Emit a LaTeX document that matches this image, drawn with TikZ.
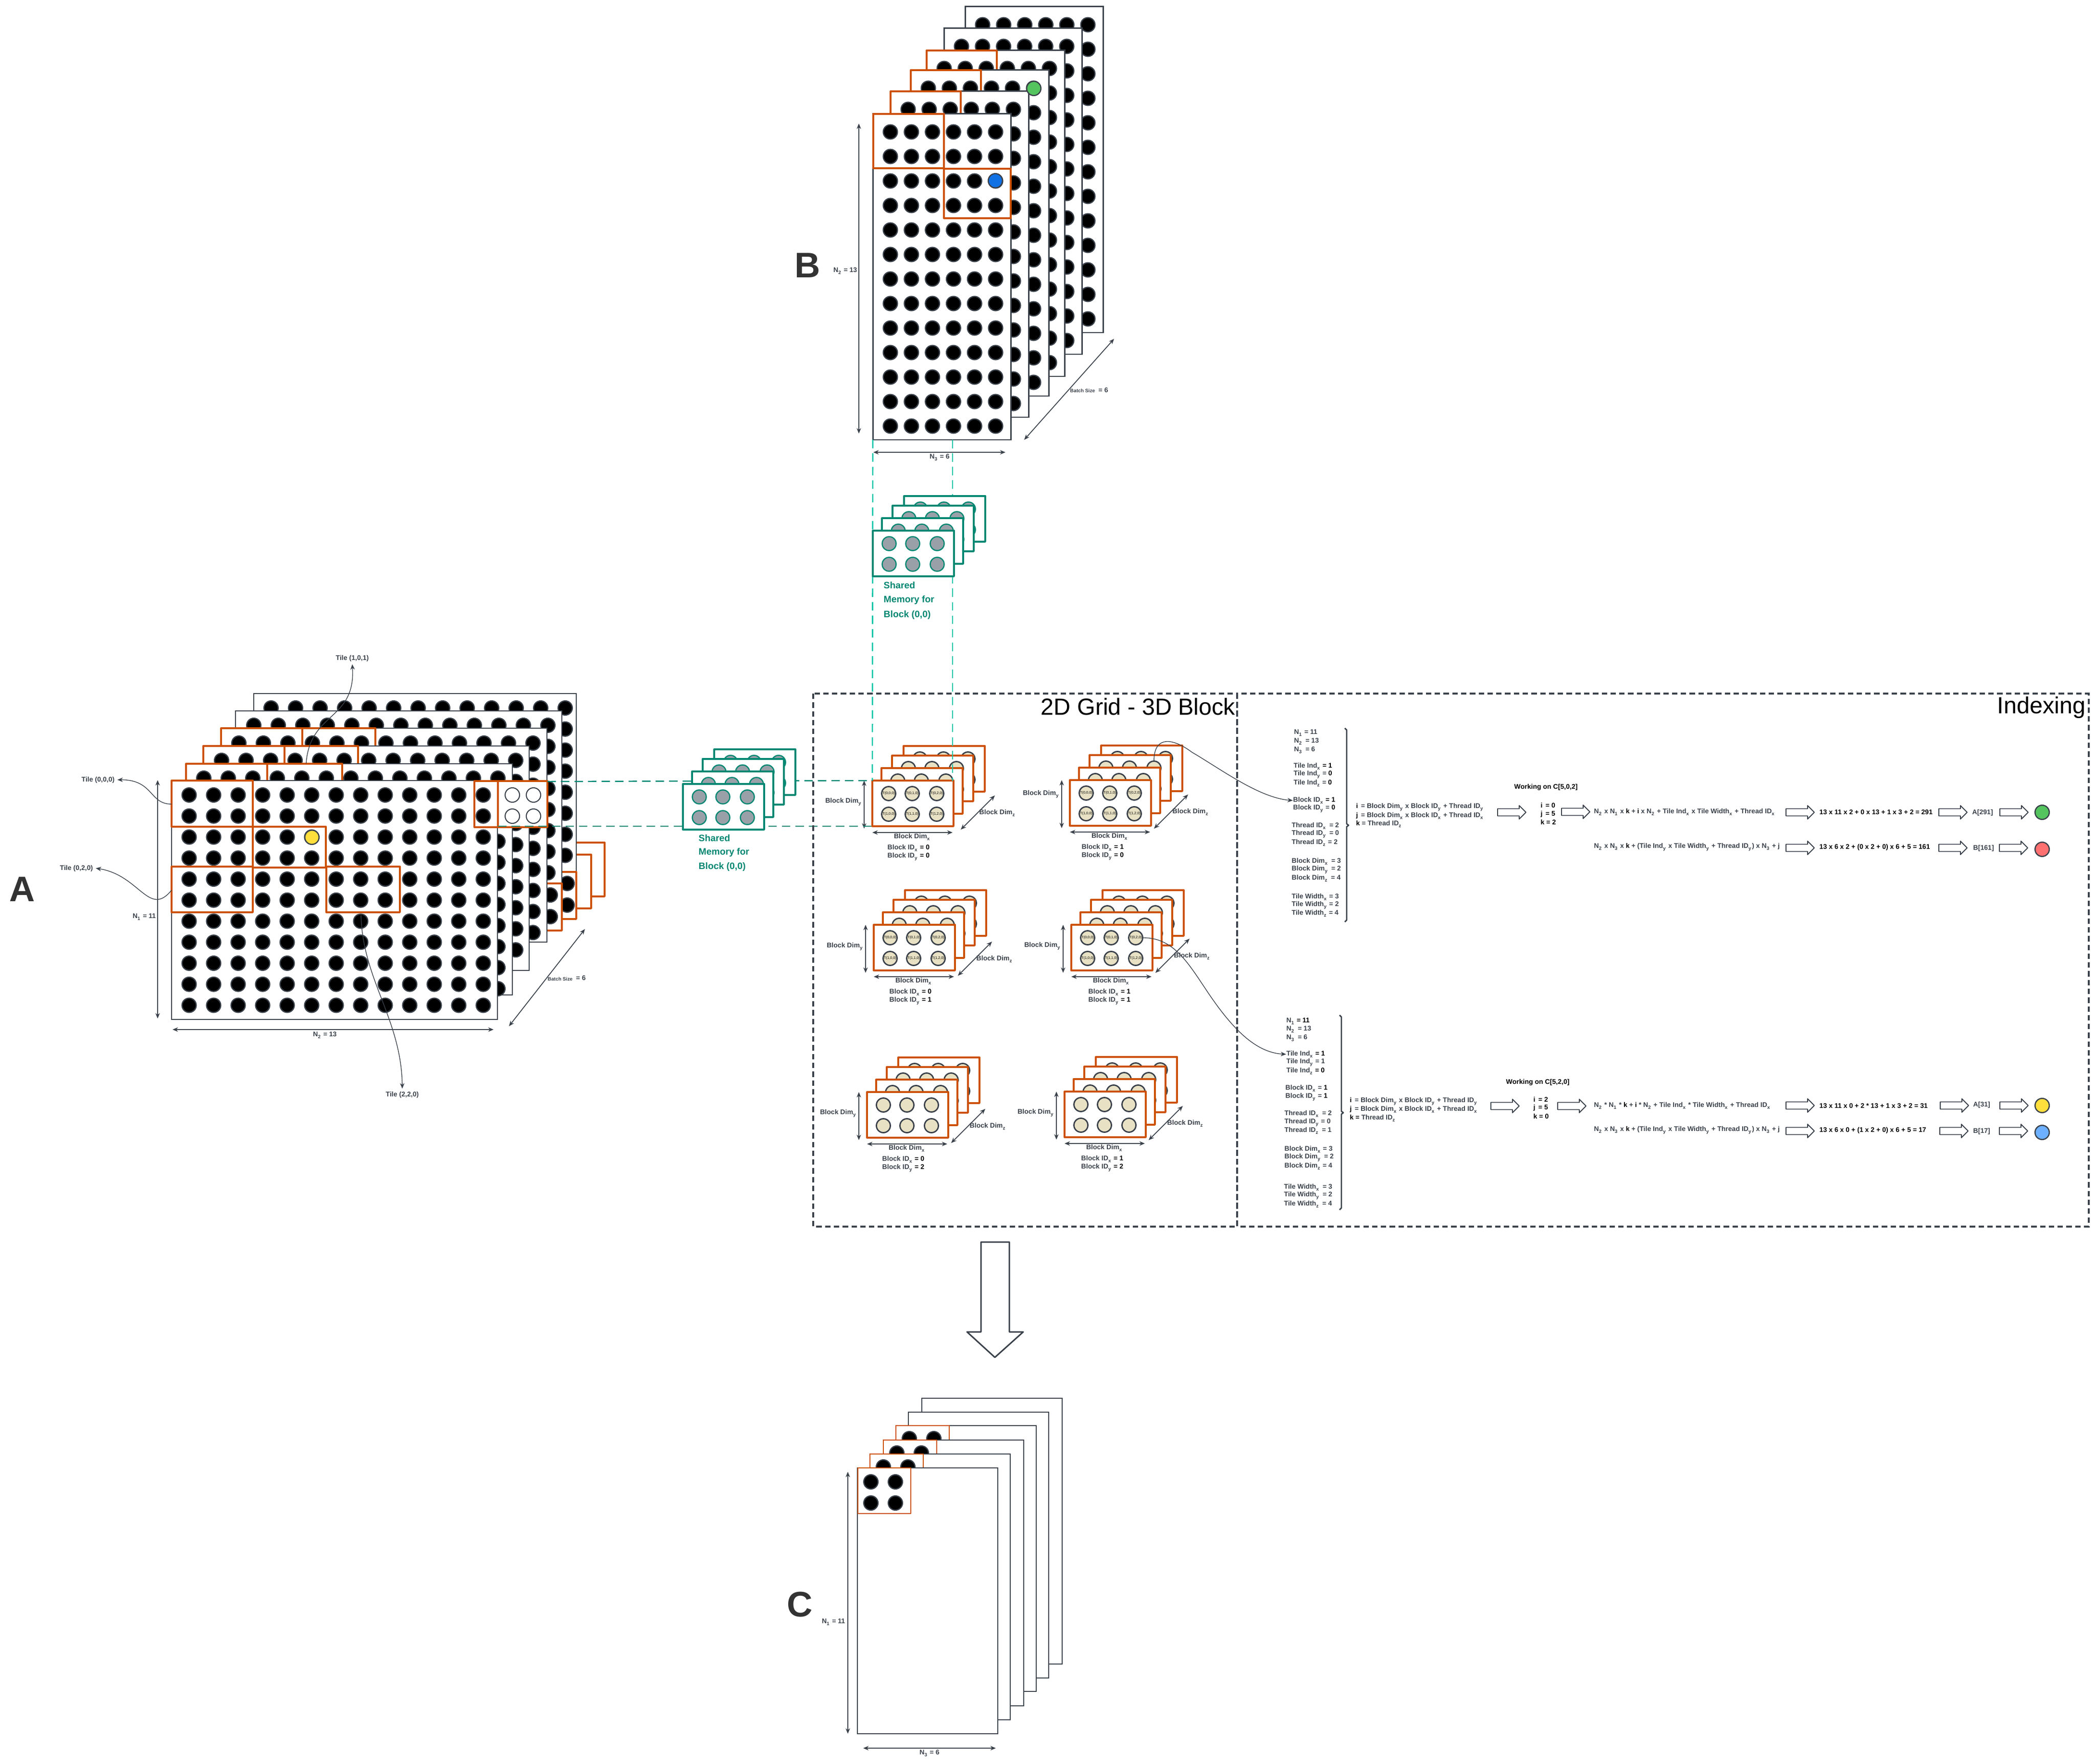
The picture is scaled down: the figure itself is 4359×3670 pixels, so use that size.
\documentclass[tikz,border=0pt]{standalone}
\usepackage{fontspec}
\setmainfont{Liberation Sans}
\usetikzlibrary{arrows.meta}
\definecolor{slateline}{HTML}{3A414A}
\definecolor{tileorange}{HTML}{CC5000}
\definecolor{memteal}{HTML}{008772}
\definecolor{aquadash}{HTML}{00C4A7}
\definecolor{cream}{HTML}{E8E1C4}
\definecolor{memgray}{HTML}{9AA0A8}
\definecolor{dotgreen}{HTML}{54C45E}
\definecolor{dotblue}{HTML}{1071E5}
\definecolor{dotyellow}{HTML}{FFDF3C}
\definecolor{dotred}{HTML}{FF7070}
\definecolor{dotsky}{HTML}{6CB0FF}
\newcommand{\dn}[1]{\textsubscript{#1}}
\newcommand{\bk}[1]{\textcolor{black}{#1}}
\tikzset{
	>={Stealth[length=3.2pt,width=2.6pt]},
	sheet/.style={draw=slateline,fill=white,line width=.65pt},
	widesheet/.style={sheet,line width=.85pt},
	tile/.style={draw=tileorange,line width=.95pt,line join=round},
	tilefill/.style={tile,fill=white},
	dot/.style={draw=slateline,fill=black,line width=.7pt},
	opendot/.style={draw=slateline,fill=white,line width=.6pt},
	card/.style={draw=tileorange,fill=white,line width=.95pt,line join=round},
	creamdisc/.style={draw=slateline,fill=cream,line width=.8pt},
	memcard/.style={draw=memteal,fill=white,line width=.95pt,line join=round},
	memdisc/.style={draw=memteal,fill=memgray,line width=.7pt},
	dimarrow/.style={draw=slateline,<->,line width=.5pt},
	leader/.style={draw=slateline,->,line width=.4pt},
	framebox/.style={draw=slateline,line width=1pt,dash pattern=on 3.2pt off 2pt},
	memdash/.style={draw=memteal,line width=.7pt,dash pattern=on 5pt off 3pt},
	aqualine/.style={draw=aquadash,line width=.75pt,dash pattern=on 5pt off 3pt},
	hollow/.style={draw=slateline,fill=white,line width=.55pt,line join=round},
	lbl/.style={font=\bfseries\fontsize{4}{5}\selectfont,text=slateline,inner sep=0pt,yshift=-.4pt},
	val/.style={lbl,anchor=west},
	res/.style={lbl,anchor=west,text=black},
	small/.style={font=\bfseries\fontsize{2.9}{3.5}\selectfont,text=slateline,inner sep=0pt},
	threadtxt/.style={font=\fontsize{2.1}{2.5}\selectfont,text=black,inner sep=0pt},
	memtxt/.style={font=\bfseries\fontsize{5.5}{6}\selectfont,text=memteal,inner sep=0pt,anchor=west},
	bigletter/.style={font=\bfseries\fontsize{21}{25}\selectfont,text=black!80,inner sep=0pt},
	title/.style={font=\fontsize{13.8}{17}\selectfont,text=black,inner sep=0pt,anchor=east}
}
% x y dx dy lastcol lastrow
\newcommand{\dotgrid}[6]{
	\foreach \c in {0,...,#5}
		\foreach \r in {0,...,#6}
			\draw[dot] ({#1+\c*#3},{#2+\r*#4}) circle [radius=14.8];
}
\newcommand{\dimline}[3]{
	\coordinate (#1-a) at (#2);
	\coordinate (#1-b) at (#3);
	\draw[dimarrow] (#1-a) -- (#1-b);
}
% name left top cardstyle discstyle
\newcommand{\cardstack}[5]{
	\foreach \ox/\oy in {65/-72,41/-52,19/-26,0/0} {
		\draw[#4] ({#2+\ox},{#3+\oy}) rectangle +(169,95);
		\foreach \px in {34,83,134}
			\foreach \py in {27,70}
				\draw[#5] ({#2+\ox+\px},{#3+\oy+\py}) circle [radius=14.5];
	}
	\coordinate (#1-nw) at (#2,#3);
	\coordinate (#1-sw) at (#2,{#3+95});
}
\newcommand{\threadtext}[3]{
	\foreach \i/\py in {0/27,1/70}
		\foreach \j/\px in {0/34,1/83,2/134}
			\node[threadtxt] (#1-t\i\j) at ({#2+\px},{#3+\py}) {T(\i,\j,0)};
}
% name left top idx idy dimyoff idoff zx zy
\newcommand{\blocklabels}[9]{
	\dimline{#1-dy}{{#2-17},#3}{{#2-17},{#3+100}}
	\dimline{#1-dx}{#2,{#3+108}}{{#2+167},{#3+108}}
	\dimline{#1-dz}{{#2+#8-38},{#3+#9+36}}{{#2+#8+33},{#3+#9-35}}
	\node[lbl,anchor=east] (#1-ly) at ({#2-21},{#3+#6}) {Block Dim\dn{y}};
	\node[lbl] (#1-lx) at ({#2+83},{#3+116}) {Block Dim\dn{x}};
	\node[lbl,anchor=west] (#1-lz) at ({#2+#8},{#3+#9}) {Block Dim\dn{z}};
	\node[val] (#1-idx) at ({#2+#7},{#3+139}) {Block ID\dn{x} \bk{= #4}};
	\node[val] (#1-idy) at ({#2+#7},{#3+157}) {Block ID\dn{y} \bk{= #5}};
}
\newcommand{\hollowarrow}[2]{
	\draw[hollow] (#1,#2) ++(0,-7.5) -- ++(45,0) -- ++(0,-6.5) -- ++(14,14) -- ++(-14,14) -- ++(0,-6.5) -- ++(-45,0) -- cycle;
}
\begin{document}
\begin{tikzpicture}[x=0.01cm,y=-0.01cm]
	\useasboundingbox (0,0) rectangle (4359,3670);
	\fill[white] (0,0) rectangle (4359,3670);

	% Stack B
	\foreach \l/\t/\hastile in {2008/14/0,1964/59/0,1928/105/1,1895/146/1,1853/190/1,1816/237/0} {
		\draw[widesheet] (\l,\t) rectangle +(287,678);
		\dotgrid{\l+36.5}{\t+37.5}{43.8}{51}{5}{12}
		\ifnum\hastile=1
			\draw[tile] (\l,\t) rectangle +(146,113);
		\fi
	}
	\draw[tile] (1817,237) rectangle (1964,350);
	\draw[tile] (1964,351) rectangle (2103,454);
	\draw[dot,fill=dotgreen] (2151,184) circle [radius=14.8];
	\draw[dot,fill=dotblue] (2071,376) circle [radius=14.8];
	\dimline{bn2}{1787,257}{1787,902}
	\dimline{bn3}{1817,941}{2092,941}
	\dimline{bbs}{2131,915}{2318,705}
	\node[lbl,anchor=east] (bn2lab) at (1784,562) {N\dn{2} = 13};
	\node[lbl] (bn3lab) at (1955,950) {N\dn{3} = 6};
	\node[small,anchor=west] (bbslab) at (2226,813) {Batch Size};
	\node[lbl,anchor=west] (bbsval) at (2285,810) {= 6};
	\node[bigletter] (letterB) at (1680,552) {B};

	% Stack A, hidden tiles first
	\draw[tilefill] (1100,1753) rectangle (1258,1865);
	\draw[tilefill] (1100,1778) rectangle (1230,1890);
	\draw[sheet] (528,1443) rectangle (1199,1912);
	\dotgrid{564}{1473}{51}{43.8}{12}{7}
	\draw[tilefill] (1100,1814) rectangle (1199,1912);
	\draw[dot] (1180,1838) circle [radius=14.8];
	\draw[dot] (1180,1883) circle [radius=14.8];
	\draw[sheet] (490,1479) rectangle (1169,1936);
	\dotgrid{528}{1509}{51}{43.8}{12}{7}
	\draw[tilefill] (1080,1838) rectangle (1169,1936);
	\draw[dot] (1145,1862) circle [radius=14.8];
	\draw[dot] (1145,1907) circle [radius=14.8];
	\draw[sheet] (460,1515) rectangle (1138,1960);
	\dotgrid{497}{1546}{51}{43.8}{12}{9}
	\draw[tile] (460,1515) rectangle (629,1605);
	\draw[tile] (629,1515) rectangle (781,1605);
	\draw[sheet] (423,1552) rectangle (1101,2019);
	\dotgrid{461}{1582}{51}{43.8}{12}{9}
	\draw[tile] (423,1552) rectangle (592,1640);
	\draw[tile] (592,1552) rectangle (745,1640);
	\draw[sheet] (387,1589) rectangle (1066,2070);
	\dotgrid{424}{1619}{51}{43.8}{12}{10}
	\draw[tile] (387,1589) rectangle (556,1680);
	\draw[tile] (556,1589) rectangle (712,1680);
	\draw[sheet] (357,1624) rectangle (1035,2121);
	\dotgrid{393.5}{1654}{51}{43.75}{12}{10}
	\draw[tile] (357,1624) rectangle (526,1720);
	\draw[tile] (526,1720) rectangle (678,1805);
	\draw[tile] (357,1803) rectangle (526,1898);
	\draw[tile] (679,1803) rectangle (832,1898);
	\draw[tile] (987,1625) rectangle (1036,1721);
	\draw[tilefill] (1036,1625) rectangle (1139,1721);
	\foreach \px in {1066,1110}
		\foreach \py in {1654,1698}
			\draw[opendot] (\px,\py) circle [radius=15];
	\draw[dot,fill=dotyellow] (649,1742) circle [radius=14.8];
	\coordinate (tileEdge) at (1139,1626);
	\coordinate (tileFoot) at (1036,1719);
	\dimline{an1}{328,1623}{328,2119}
	\dimline{an2}{359,2142}{1027,2142}
	\dimline{abs}{1059,2135}{1217,1933}
	\node[lbl,anchor=east] (an1lab) at (325,1906) {N\dn{1} = 11};
	\node[lbl] (an2lab) at (676,2152) {N\dn{2} = 13};
	\node[small,anchor=west] (abslab) at (1139,2037) {Batch Size};
	\node[lbl,anchor=west] (absval) at (1198,2033) {= 6};
	\node[bigletter] (letterA) at (46,1850) {A};

	% Tile callouts
	\node[lbl,inner sep=1.5pt] (tile101) at (733,1368) {Tile (1,0,1)};
	\node[lbl,inner sep=1.5pt] (tile000) at (204,1621) {Tile (0,0,0)};
	\node[lbl,inner sep=1.5pt] (tile020) at (159,1805) {Tile (0,2,0)};
	\node[lbl,inner sep=1.5pt] (tile220) at (837,2276) {Tile (2,2,0)};
	\coordinate (from101) at (637,1588);
	\coordinate (from000) at (357,1673);
	\coordinate (from020) at (357,1852);
	\coordinate (from220) at (751,1904);
	\draw[leader] (from101) .. controls (645,1480) and (740,1500) .. (tile101.south);
	\draw[leader] (from000) .. controls (310,1673) and (320,1622) .. (tile000.east);
	\draw[leader] (from020) .. controls (310,1910) and (290,1820) .. (tile020.east);
	\draw[leader] (from220) .. controls (755,2040) and (835,2120) .. (tile220.north);

	% Grid of blocks
	\cardstack{b00}{1815}{1624}{card}{creamdisc}
	\cardstack{b10}{2226}{1623}{card}{creamdisc}
	\cardstack{b01}{1818}{1924}{card}{creamdisc}
	\cardstack{b11}{2229}{1924}{card}{creamdisc}
	\cardstack{b02}{1804}{2272}{card}{creamdisc}
	\cardstack{b12}{2215}{2271}{card}{creamdisc}
	\threadtext{b00}{1815}{1624}
	\threadtext{b10}{2226}{1623}
	\threadtext{b01}{1818}{1924}
	\threadtext{b11}{2229}{1924}
	\blocklabels{b00}{1815}{1624}{0}{0}{43}{31}{222}{66}
	\blocklabels{b10}{2226}{1623}{1}{0}{28}{24}{213}{65}
	\blocklabels{b01}{1818}{1924}{0}{1}{44}{32}{213}{70}
	\blocklabels{b11}{2229}{1924}{1}{1}{43}{35}{213}{64}
	\blocklabels{b02}{1804}{2272}{0}{2}{43}{31}{213}{70}
	\blocklabels{b12}{2215}{2271}{1}{2}{43}{34}{213}{65}

	% Dashed guides
	\coordinate (bFootL) at (1816,915);
	\coordinate (bFootR) at (1982,915);
	\coordinate (b00R) at (1982,1625);
	\draw[aqualine] (bFootL) -- (b00-nw);
	\draw[aqualine] (bFootR) -- (b00R);
	\draw[memdash] (tileEdge) -- (b00-nw);
	\draw[memdash] (tileFoot) -- (b00-sw);

	% Shared memory of stack A
	\cardstack{mema}{1421}{1631}{memcard}{memdisc}
	\node[memtxt] (memaone) at (1453,1744) {Shared};
	\node[memtxt] (mematwo) at (1453,1773) {Memory for};
	\node[memtxt] (memathree) at (1453,1803) {Block (0,0)};
	% Shared memory of stack B
	\cardstack{memb}{1816}{1104}{memcard}{memdisc}
	\node[memtxt] (membone) at (1838,1218) {Shared};
	\node[memtxt] (membtwo) at (1838,1248) {Memory for};
	\node[memtxt] (membthree) at (1838,1279) {Block (0,0)};

	% Dashed frames
	\draw[framebox] (1692,1443) rectangle (2574,2552);
	\draw[framebox] (2574,1443) rectangle (4346,2552);
	\node[title] (gridtitle) at (2571,1470) {2D Grid - 3D Block};
	\node[title] (indextitle) at (4340,1472) {Indexing};

	% Indexing, first case
	\node[val] (pn1) at (2692,1523) {N\dn{1} = 11};
	\node[val] (pn2) at (2692,1541) {N\dn{2} \,= 13};
	\node[val] (pn3) at (2692,1559) {N\dn{3} \,= 6};
	\node[val] (pti1) at (2691,1593) {Tile Ind\dn{x} \bk{= 1}};
	\node[val] (pti2) at (2691,1610) {Tile Ind\dn{y} = \bk{0}};
	\node[val] (pti3) at (2691,1628) {Tile Ind\dn{z} = \bk{0}};
	\node[val] (pbi1) at (2690,1664) {Block ID\dn{x} \bk{= 1}};
	\node[val] (pbi2) at (2690,1681) {Block ID\dn{y} = \bk{0}};
	\node[val] (pth1) at (2687,1717) {Thread ID\dn{x} \,= 2};
	\node[val] (pth2) at (2687,1734) {Thread ID\dn{y} \,= 0};
	\node[val] (pth3) at (2687,1752) {Thread ID\dn{z} = 2};
	\node[val] (pbd1) at (2687,1791) {Block Dim\dn{x} \,= 3};
	\node[val] (pbd2) at (2687,1808) {Block Dim\dn{y} \,= 2};
	\node[val] (pbd3) at (2687,1826) {Block Dim\dn{z} \,= 4};
	\node[val] (ptw1) at (2687,1865) {Tile Width\dn{x} = 3};
	\node[val] (ptw2) at (2687,1882) {Tile Width\dn{y} = 2};
	\node[val] (ptw3) at (2687,1899) {Tile Width\dn{z} = 4};
	\draw[draw=slateline,line width=.8pt,line join=round] (2798,1515) -- (2802,1519) -- (2802,1714) -- (2806,1717) -- (2802,1720) -- (2802,1914) -- (2798,1918);
	\node[val] (pi) at (2821,1678) {\bk{i} \,= Block Dim\dn{y} x Block ID\dn{y} + Thread ID\dn{y}};
	\node[val] (pj) at (2821,1696) {\bk{j} \,= Block Dim\dn{x} x Block ID\dn{x} + Thread ID\dn{x}};
	\node[val] (pk) at (2821,1713) {\bk{k} = Thread ID\dn{z}};
	\hollowarrow{3116}{1690}
	\node[res] (pwork) at (3150,1636) {Working on C[5,0,2]};
	\node[res] (pvi) at (3205,1674) {i \,= 0};
	\node[res] (pvj) at (3205,1692) {j \,= 5};
	\node[res] (pvk) at (3205,1709) {k = 2};
	\hollowarrow{3249}{1689}
	\node[val] (pfa) at (3316,1688) {N\dn{2} x N\dn{1} x \bk{k} + \bk{i} x N\dn{2} + Tile Ind\dn{x} x Tile Width\dn{x} + Thread ID\dn{x}};
	\hollowarrow{3716}{1690}
	\node[res] (pca) at (3785,1688) {13 x 11 x 2 + 0 x 13 + 1 x 3 + 2 = 291};
	\hollowarrow{4034}{1690}
	\node[val] (pra) at (4103,1689) {A[291]};
	\hollowarrow{4161}{1690}
	\draw[dot,fill=dotgreen] (4249,1690) circle [radius=14.8];
	\node[val] (pfb) at (3316,1761) {N\dn{2} x N\dn{3} x \bk{k} + (Tile Ind\dn{y} x Tile Width\dn{y} + Thread ID\dn{y}) x N\dn{3} + j};
	\hollowarrow{3716}{1764}
	\node[res] (pcb) at (3785,1761) {13 x 6 x 2 + (0 x 2 + 0) x 6 + 5 = 161};
	\hollowarrow{4034}{1764}
	\node[val] (prb) at (4105,1763) {B[161]};
	\hollowarrow{4160}{1764}
	\draw[dot,fill=dotred] (4249,1767) circle [radius=14.8];

	% Indexing, second case
	\node[val] (qn1) at (2676,2123) {N\dn{1} \bk{= 11}};
	\node[val] (qn2) at (2676,2140) {N\dn{2} \,= 13};
	\node[val] (qn3) at (2676,2158) {N\dn{3} \,= 6};
	\node[val] (qti1) at (2676,2192) {Tile Ind\dn{x} \bk{= 1}};
	\node[val] (qti2) at (2676,2209) {Tile Ind\dn{y} = 1};
	\node[val] (qti3) at (2676,2227) {Tile Ind\dn{z} \bk{= 0}};
	\node[val] (qbi1) at (2674,2263) {Block ID\dn{x} = \bk{1}};
	\node[val] (qbi2) at (2674,2281) {Block ID\dn{y} = \bk{1}};
	\node[val] (qth1) at (2672,2316) {Thread ID\dn{x} \,= 2};
	\node[val] (qth2) at (2672,2334) {Thread ID\dn{y} = 0};
	\node[val] (qth3) at (2672,2351) {Thread ID\dn{z} \,= 1};
	\node[val] (qbd1) at (2672,2390) {Block Dim\dn{x} = 3};
	\node[val] (qbd2) at (2672,2407) {Block Dim\dn{y} \,= 2};
	\node[val] (qbd3) at (2672,2425) {Block Dim\dn{z} = 4};
	\node[val] (qtw1) at (2671,2469) {Tile Width\dn{x} \,= 3};
	\node[val] (qtw2) at (2671,2486) {Tile Width\dn{y} \,= 2};
	\node[val] (qtw3) at (2671,2504) {Tile Width\dn{z} \,= 4};
	\draw[draw=slateline,line width=.8pt,line join=round] (2787,2112) -- (2791,2116) -- (2791,2312) -- (2795,2315) -- (2791,2318) -- (2791,2513) -- (2787,2517);
	\node[val] (qi) at (2808,2290) {\bk{i} \,= Block Dim\dn{y} x Block ID\dn{y} + Thread ID\dn{y}};
	\node[val] (qj) at (2808,2307) {\bk{j} \,= Block Dim\dn{x} x Block ID\dn{x} + Thread ID\dn{x}};
	\node[val] (qk) at (2808,2325) {\bk{k =} Thread ID\dn{z}};
	\hollowarrow{3102}{2301}
	\node[res] (qwork) at (3133,2250) {Working on C[5,2,0]};
	\node[res] (qvi) at (3190,2286) {i \,= 2};
	\node[res] (qvj) at (3190,2303) {j \,= 5};
	\node[res] (qvk) at (3190,2321) {k = 0};
	\hollowarrow{3241}{2301}
	\node[val] (qfa) at (3316,2299) {N\dn{2} * N\dn{1} * \bk{k} + \bk{i} * N\dn{2} + Tile Ind\dn{x} * Tile Width\dn{x} + Thread ID\dn{x}};
	\hollowarrow{3716}{2300}
	\node[res] (qca) at (3785,2299) {13 x 11 x 0 + 2 * 13 + 1 x 3 + 2 = 31};
	\hollowarrow{4037}{2300}
	\node[val] (qra) at (4105,2297) {A[31]};
	\hollowarrow{4161}{2300}
	\draw[dot,fill=dotyellow] (4249,2300) circle [radius=14.8];
	\node[val] (qfb) at (3316,2350) {N\dn{2} x N\dn{3} x \bk{k} + (Tile Ind\dn{y} x Tile Width\dn{y} + Thread ID\dn{y}) x N\dn{3} + j};
	\hollowarrow{3716}{2353}
	\node[res] (qcb) at (3785,2350) {13 x 6 x 0 + (1 x 2 + 0) x 6 + 5 = 17};
	\hollowarrow{4036}{2353}
	\node[val] (qrb) at (4105,2352) {B[17]};
	\hollowarrow{4160}{2353}
	\draw[dot,fill=dotsky] (4249,2356) circle [radius=14.8];

	% Links into the indexing panels
	\coordinate (fromB10) at (2401,1583);
	\draw[leader] (fromB10) .. controls (2401,1530) and (2440,1535) .. (2480,1565) .. controls (2540,1600) and (2620,1660) .. (pbi1.west);
	\draw[leader] (b11-t02.east) .. controls (2440,1950) and (2470,2000) .. (2510,2060) .. controls (2560,2135) and (2610,2190) .. (qti1.west);

	% Big arrow
	\draw[hollow,line width=.85pt] (2041,2584) -- (2100,2584) -- (2100,2771) -- (2129,2771) -- (2070,2824) -- (2012,2771) -- (2041,2771) -- cycle;

	% Stack C
	\foreach \l/\t/\hastile in {1918/2909/0,1890/2938/0,1864/2966/1,1838/2996/1,1810/3025/1,1784/3054/0} {
		\draw[sheet] (\l,\t) rectangle +(292,553);
		\ifnum\hastile=1
			\draw[tile,line width=.7pt] (\l,\t) rectangle +(111,95);
			\foreach \px in {28,79}
				\draw[dot] ({\l+\px},{\t+27}) circle [radius=14.8];
		\fi
	}
	\draw[tilefill,line width=.7pt] (1785,3054) rectangle (1895,3149);
	\foreach \px in {1812,1863}
		\foreach \py in {3083,3127}
			\draw[dot] (\px,\py) circle [radius=14.8];
	\dimline{cn1}{1764,3062}{1764,3607}
	\dimline{cn3}{1796,3637}{2072,3637}
	\node[lbl,anchor=east] (cn1lab) at (1759,3373) {N\dn{1} = 11};
	\node[lbl] (cn3lab) at (1934,3646) {N\dn{3} = 6};
	\node[bigletter] (letterC) at (1664,3338) {C};
\end{tikzpicture}
\end{document}
